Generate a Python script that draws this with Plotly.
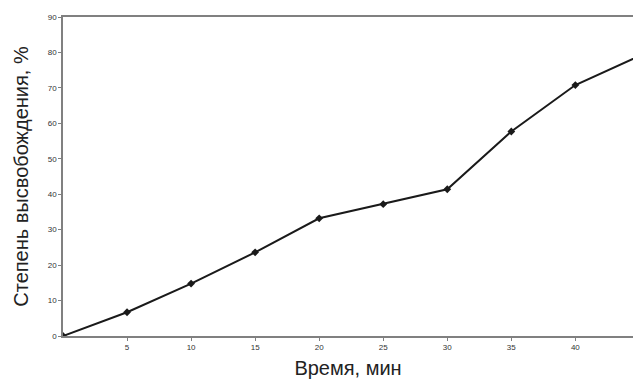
import plotly.graph_objects as go

time_min = [0, 5, 10, 15, 20, 25, 30, 35, 40, 45]
release_pct = [0, 6.7, 14.8, 23.6, 33.2, 37.2, 41.4, 57.7, 70.8, 79.0]
x_ticks = [5, 10, 15, 20, 25, 30, 35, 40, 45]
y_ticks = [0, 10, 20, 30, 40, 50, 60, 70, 80, 90]

fig = go.Figure()
fig.add_trace(go.Scatter(
    x=time_min, y=release_pct, mode="lines+markers",
    line=dict(color="#1a1a1a", width=2),
    marker=dict(symbol="diamond", size=6, color="#1a1a1a"),
    showlegend=False,
))

fig.update_layout(
    width=633, height=387,
    margin=dict(l=63, r=0, t=17, b=51),
    paper_bgcolor="white", plot_bgcolor="white",
    font=dict(family="Liberation Sans, Arial, sans-serif"),
    xaxis=dict(
        range=[0, 44.5], tickvals=x_ticks, ticks="outside", ticklen=3,
        tickcolor="#808080", showline=True, linecolor="#808080", linewidth=1.5,
        mirror=True, showgrid=False, zeroline=False, automargin=False,
        tickfont=dict(size=8, color="#333"),
        title=dict(text="Время, мин", font=dict(size=20, color="#222"), standoff=10),
    ),
    yaxis=dict(
        range=[0, 90], tickvals=y_ticks, ticks="outside", ticklen=3,
        tickcolor="#808080", showline=True, linecolor="#808080", linewidth=1.5,
        showgrid=False, zeroline=False, automargin=False,
        tickfont=dict(size=8, color="#333"),
        title=dict(text="Степень высвобождения, %", font=dict(size=20, color="#222"), standoff=14),
    ),
)

fig.write_html(
    "out.html",
    config={"displayModeBar": False},
    post_script="document.body.style.margin='0';document.body.style.overflow='hidden';",
)
